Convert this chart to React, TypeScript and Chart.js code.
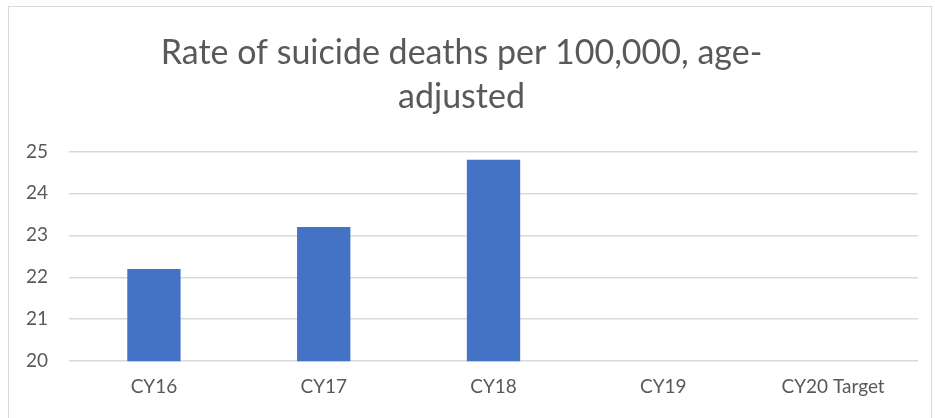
import React, { useEffect, useRef } from "react";
import { Chart, registerables } from "chart.js";

Chart.register(...registerables);

const categories = ["CY16", "CY17", "CY18", "CY19", "CY20 Target"];
const rates: (number | null)[] = [22.2, 23.2, 24.8, null, null];
const titleLines = ["Rate of suicide deaths per 100,000, age-", "adjusted"];
const yMin = 20;
const yMax = 25;

export default function App() {
  const ref = useRef<HTMLCanvasElement | null>(null);
  useEffect(() => {
    if (!ref.current) return;
    const chart = new Chart(ref.current, {
      type: "bar",
      data: {
        labels: categories,
        datasets: [
          {
            data: rates,
            backgroundColor: "#4472c4",
            categoryPercentage: 1,
            barPercentage: 0.314,
          },
        ],
      },
      options: {
        animation: false,
        responsive: false,
        maintainAspectRatio: false,
        layout: { padding: { left: 5, right: 17, top: 0, bottom: 14 } },
        plugins: {
          legend: { display: false },
          tooltip: { enabled: false },
          title: {
            display: true,
            text: titleLines,
            color: "#595959",
            font: { family: "Lato", size: 34, weight: "normal", lineHeight: 1.3 },
            padding: { top: 31, bottom: 32 },
          },
        },
        scales: {
          x: {
            grid: { display: false },
            border: { display: false },
            ticks: { color: "#595959", font: { family: "Lato", size: 19 }, padding: 6 },
          },
          y: {
            min: yMin,
            max: yMax,
            ticks: { stepSize: 1, color: "#595959", font: { family: "Lato", size: 19 }, padding: 21 },
            grid: { color: "#d9d9d9", lineWidth: 1.5, drawTicks: false },
            border: { display: false },
          },
        },
      },
    });
    return () => chart.destroy();
  }, []);
  return (
    <div style={{ position: "fixed", left: 0, top: 0, width: 935, height: 418, background: "#fff" }}>
      <div style={{ position: "absolute", left: 8, top: 6, width: 924, height: 420, border: "1px solid #d9d9d9", boxSizing: "border-box" }} />
      <canvas ref={ref} width={935} height={418} style={{ position: "absolute", left: 0, top: 0, width: 935, height: 418 }} />
    </div>
  );
}
